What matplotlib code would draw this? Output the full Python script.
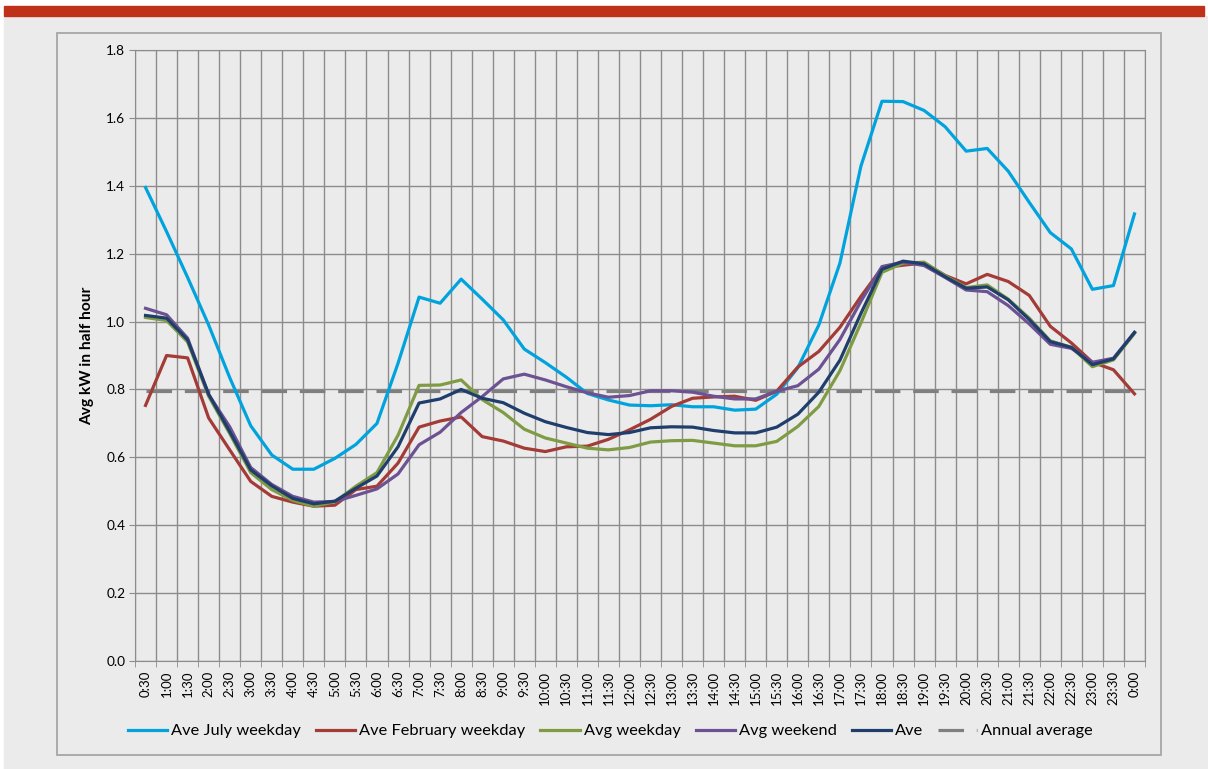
import matplotlib.pyplot as plt
from matplotlib.patches import Rectangle
import numpy as np

plt.rcParams['font.family'] = ['Lato', 'DejaVu Sans']

times = ["0:30", "1:00", "1:30", "2:00", "2:30", "3:00", "3:30", "4:00", "4:30", "5:00",
         "5:30", "6:00", "6:30", "7:00", "7:30", "8:00", "8:30", "9:00", "9:30", "10:00",
         "10:30", "11:00", "11:30", "12:00", "12:30", "13:00", "13:30", "14:00", "14:30", "15:00",
         "15:30", "16:00", "16:30", "17:00", "17:30", "18:00", "18:30", "19:00", "19:30", "20:00",
         "20:30", "21:00", "21:30", "22:00", "22:30", "23:00", "23:30", "0:00"]

july_weekday = [1.395, 1.265, 1.13, 0.99, 0.835, 0.693, 0.607, 0.565, 0.565, 0.597,
                0.638, 0.70, 0.877, 1.072, 1.054, 1.125, 1.066, 1.005, 0.919, 0.879,
                0.836, 0.788, 0.769, 0.754, 0.752, 0.755, 0.749, 0.749, 0.739, 0.742,
                0.786, 0.864, 0.99, 1.172, 1.458, 1.649, 1.648, 1.622, 1.574, 1.502,
                1.510, 1.443, 1.351, 1.262, 1.214, 1.095, 1.106, 1.317]

feb_weekday = [0.753, 0.90, 0.893, 0.716, 0.622, 0.529, 0.485, 0.468, 0.456, 0.459,
               0.505, 0.515, 0.583, 0.689, 0.707, 0.719, 0.661, 0.648, 0.627, 0.617,
               0.631, 0.633, 0.653, 0.681, 0.712, 0.75, 0.774, 0.778, 0.78, 0.768,
               0.795, 0.866, 0.912, 0.983, 1.074, 1.158, 1.166, 1.173, 1.136, 1.111,
               1.139, 1.118, 1.077, 0.986, 0.937, 0.880, 0.858, 0.787]

avg_weekday = [1.012, 1.003, 0.94, 0.78, 0.67, 0.555, 0.505, 0.473, 0.456, 0.469,
               0.515, 0.555, 0.665, 0.812, 0.813, 0.828, 0.77, 0.732, 0.683, 0.657,
               0.642, 0.627, 0.622, 0.629, 0.645, 0.649, 0.650, 0.642, 0.634, 0.634,
               0.647, 0.691, 0.75, 0.855, 0.996, 1.145, 1.172, 1.175, 1.135, 1.10,
               1.108, 1.066, 1.01, 0.943, 0.924, 0.867, 0.887, 0.965]

avg_weekend = [1.039, 1.02, 0.951, 0.785, 0.69, 0.57, 0.52, 0.485, 0.468, 0.470,
               0.488, 0.507, 0.551, 0.637, 0.674, 0.732, 0.779, 0.831, 0.845, 0.828,
               0.808, 0.790, 0.777, 0.782, 0.796, 0.796, 0.792, 0.780, 0.772, 0.772,
               0.795, 0.811, 0.86, 0.947, 1.06, 1.162, 1.175, 1.165, 1.13, 1.093,
               1.088, 1.047, 0.993, 0.933, 0.921, 0.880, 0.892, 0.968]

ave = [1.018, 1.01, 0.946, 0.786, 0.676, 0.563, 0.516, 0.479, 0.463, 0.471,
       0.509, 0.545, 0.631, 0.760, 0.772, 0.800, 0.774, 0.761, 0.730, 0.705,
       0.688, 0.673, 0.667, 0.673, 0.687, 0.690, 0.689, 0.679, 0.672, 0.672,
       0.689, 0.727, 0.792, 0.886, 1.024, 1.154, 1.178, 1.17, 1.132, 1.098,
       1.102, 1.064, 1.006, 0.941, 0.924, 0.873, 0.89, 0.968]

annual_average = 0.796

W, H = 1208, 769
fig = plt.figure(figsize=(W / 100, H / 100), dpi=100, facecolor='white')

# background, red band on top, chart frame
fig.patches.append(Rectangle((4 / W, 0), 1, 1 - 16 / H, transform=fig.transFigure,
                             color='#ebebeb', zorder=-10))
fig.patches.append(Rectangle((4 / W, 1 - 16 / H), 1200 / W, 10 / H, transform=fig.transFigure,
                             color='#c0311a', zorder=-9))
fig.patches.append(Rectangle((57 / W, 1 - 755 / H), 1104 / W, 722 / H, transform=fig.transFigure,
                             fill=False, ec='#a6a6a6', lw=1.3, zorder=-9))

ax = fig.add_axes([135 / W, 1 - 661 / H, 1010 / W, 611 / H])
ax.set_zorder(1)
ax.set_facecolor('#ebebeb')

x = np.arange(len(times))
lw = 2.3
ax.plot([x[0], x[-1]], [annual_average, annual_average], color='#7f7f7f', lw=lw,
        linestyle=(0, (8, 4)), label='Annual average', zorder=2)
ax.plot(x, july_weekday, color='#00a3dd', lw=lw, label='Ave July weekday', zorder=3)
ax.plot(x, feb_weekday, color='#a33b36', lw=lw, label='Ave February weekday', zorder=3)
ax.plot(x, avg_weekday, color='#7f9c44', lw=lw, label='Avg weekday', zorder=3)
ax.plot(x, avg_weekend, color='#6c5193', lw=lw, label='Avg weekend', zorder=3)
ax.plot(x, ave, color='#1f3e6c', lw=lw, label='Ave', zorder=3)

ax.set_xlim(-0.5, len(times) - 0.5)
ax.set_xticks(x)
ax.set_xticklabels(times, rotation=90, fontsize=9.5)
ax.set_xticks(np.arange(-0.5, len(times), 1), minor=True)
ax.tick_params(axis='x', which='major', length=0, pad=7)
ax.tick_params(axis='x', which='minor', length=4, color='#8c8c8c')
ax.grid(axis='x', which='minor', color='#8c8c8c', lw=1)

ax.set_ylim(0, 1.8)
yt = np.arange(0, 1.81, 0.2)
ax.set_yticks(yt)
ax.set_yticklabels(['%.1f' % v for v in yt], fontsize=9.8)
ax.tick_params(axis='y', length=4, color='#8c8c8c', pad=3)
ax.grid(axis='y', which='major', color='#8c8c8c', lw=1)
ax.set_axisbelow(True)
for s in ax.spines.values():
    s.set_color('#8c8c8c')

ax.set_ylabel('Avg kW in half hour', fontweight='bold', fontsize=11.2)
ax.yaxis.set_label_coords((94 - 135) / 1010, 0.5)

handles, labels = ax.get_legend_handles_labels()
order = [1, 2, 3, 4, 5, 0]
leg = fig.legend([handles[i] for i in order], [labels[i] for i in order], ncol=6,
                 loc='center left', bbox_to_anchor=(128 / W, 1 - 731 / H), frameon=False,
                 borderpad=0, borderaxespad=0, handlelength=2.4, handletextpad=0.25,
                 columnspacing=0.9, fontsize=11.8)
leg.set_zorder(2)

fig.savefig('out.png', dpi=100, facecolor=fig.get_facecolor())
